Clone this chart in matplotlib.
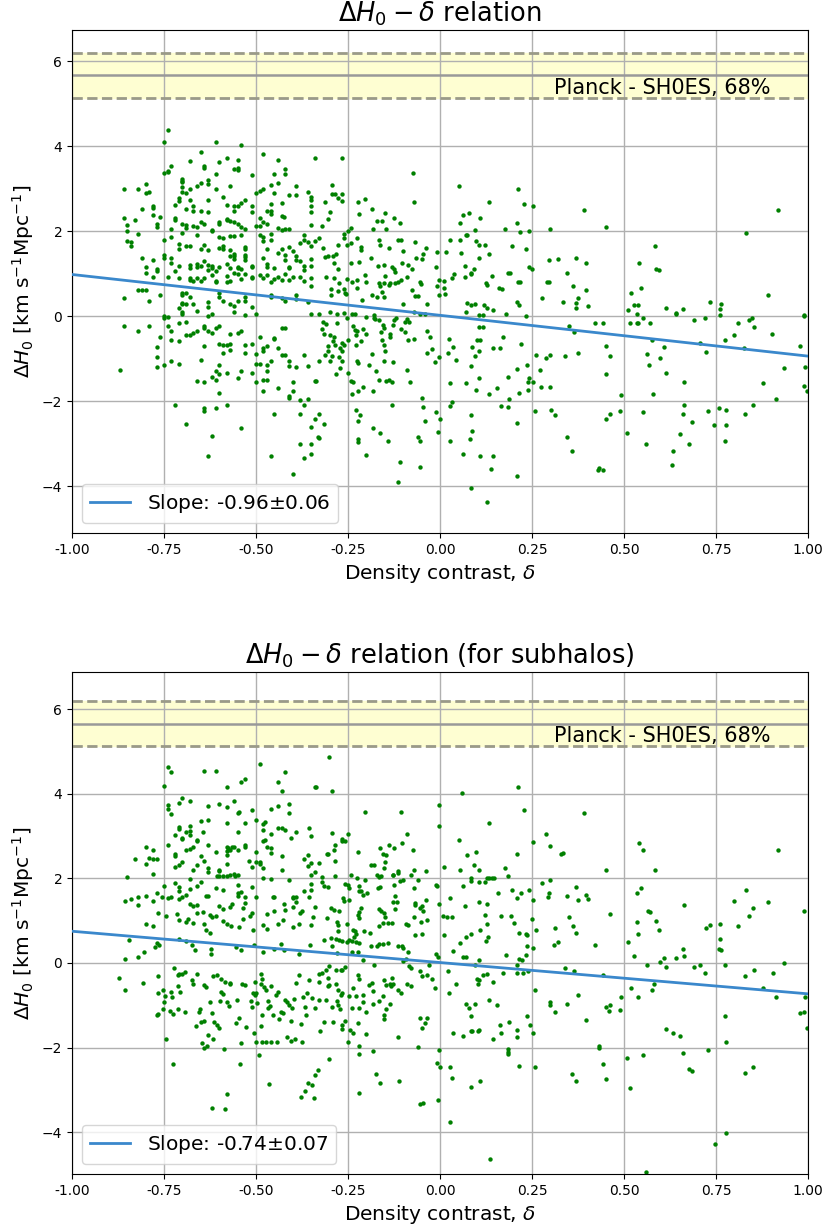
import numpy as np
import matplotlib
matplotlib.use("Agg")
import matplotlib.pyplot as plt

# ---- measurements: (density contrast, Delta H0) ----
halo_pts = [
    (-0.74,4.37),(-0.75,4.09),(-0.61,4.09),(-0.54,4.03),(-0.65,3.87),(-0.48,3.81),(-0.58,3.72),(-0.68,3.65),
    (-0.55,3.68),(-0.60,3.62),(-0.44,3.68),(-0.34,3.72),(-0.73,3.53),(-0.64,3.53),(-0.64,3.49),(-0.56,3.46),
    (-0.55,3.43),(-0.55,3.49),(-0.42,3.46),(-0.74,3.42),(-0.75,3.37),(-0.74,3.39),(-0.61,3.34),(-0.51,3.31),
    (-0.45,3.34),(-0.70,3.23),(-0.70,3.19),(-0.70,3.15),(-0.63,3.2),(-0.65,3.13),(-0.63,3.11),(-0.86,2.99),
    (-0.82,3.0),(-0.80,3.11),(-0.79,2.92),(-0.80,2.89),(-0.70,3.03),(-0.68,2.99),(-0.69,2.89),(-0.70,2.93),
    (-0.66,3.07),(-0.61,2.99),(-0.57,3.06),(-0.48,2.98),(-0.49,2.95),(-0.46,3.08),(-0.45,2.89),(-0.44,3.12),
    (-0.42,3.34),(-0.39,3.06),(-0.36,2.92),(-0.35,2.81),(-0.35,2.74),(-0.50,2.9),(-0.41,2.84),(-0.39,2.84),
    (-0.71,2.77),(-0.71,2.71),(-0.72,2.62),(-0.68,2.74),(-0.63,2.74),(-0.59,2.8),(-0.53,2.74),(-0.54,2.66),
    (-0.46,2.63),(-0.43,2.66),(-0.78,2.6),(-0.78,2.55),(-0.81,2.51),(-0.67,2.58),(-0.69,2.51),(-0.67,2.47),
    (-0.65,2.47),(-0.63,2.44),(-0.58,2.61),(-0.56,2.58),(-0.55,2.58),(-0.56,2.47),(-0.51,2.6),(-0.51,2.46),
    (-0.47,2.47),(-0.46,2.47),(-0.46,2.4),(-0.43,2.36),(-0.425,2.33),(-0.35,2.44),(-0.35,2.59),(-0.86,2.3),
    (-0.85,2.14),(-0.85,2.0),(-0.83,2.27),(-0.78,2.37),(-0.76,2.33),(-0.77,2.16),(-0.77,2.1),(-0.72,2.3),
    (-0.72,2.27),(-0.69,2.14),(-0.70,2.17),(-0.69,2.08),(-0.73,2.06),(-0.67,2.13),(-0.66,2.09),(-0.65,2.22),
    (-0.64,2.17),(-0.62,2.03),(-0.60,2.22),(-0.60,2.17),(-0.58,2.28),(-0.58,2.26),(-0.57,2.23),(-0.56,2.22),
    (-0.55,2.17),(-0.54,2.1),(-0.53,2.06),(-0.49,2.3),(-0.48,2.21),(-0.47,2.17),(-0.49,2.13),(-0.50,2.11),
    (-0.44,2.07),(-0.43,2.02),(-0.42,2.04),(-0.41,2.06),(-0.37,1.92),(-0.35,2.14),(-0.85,1.76),(-0.84,1.75),
    (-0.84,1.65),(-0.82,1.93),(-0.75,1.79),(-0.73,1.87),(-0.71,1.69),(-0.71,1.57),(-0.70,1.96),(-0.69,1.64),
    (-0.68,1.64),(-0.66,1.9),(-0.65,1.58),(-0.64,1.68),(-0.63,1.56),(-0.62,2.0),(-0.60,1.86),(-0.59,1.84),
    (-0.57,1.88),(-0.56,1.88),(-0.54,1.91),(-0.60,1.6),(-0.59,1.59),(-0.59,1.64),(-0.57,1.55),(-0.56,1.46),
    (-0.56,1.41),(-0.53,1.63),(-0.53,1.57),(-0.53,1.45),(-0.49,1.9),(-0.48,1.86),(-0.48,1.76),(-0.47,1.57),
    (-0.46,1.93),(-0.46,1.79),(-0.44,1.49),(-0.43,1.57),(-0.42,1.45),(-0.41,1.62),(-0.40,1.53),(-0.39,1.42),
    (-0.38,1.71),(-0.37,1.8),(-0.36,1.75),(-0.35,1.66),(-0.34,1.76),(-0.75,1.45),(-0.75,1.37),(-0.73,1.37),
    (-0.73,1.26),(-0.71,1.18),(-0.68,1.21),(-0.68,1.13),(-0.66,1.23),(-0.65,1.19),(-0.66,1.15),(-0.64,1.3),
    (-0.63,1.21),(-0.63,1.09),(-0.62,1.19),(-0.62,1.14),(-0.61,1.07),(-0.60,1.16),(-0.58,1.23),(-0.57,1.13),
    (-0.57,1.42),(-0.56,1.35),(-0.55,1.13),(-0.55,1.16),(-0.54,1.1),(-0.53,1.38),(-0.53,1.33),(-0.51,1.15),
    (-0.51,1.19),(-0.48,1.36),(-0.47,1.22),(-0.47,1.16),(-0.45,1.13),(-0.42,1.31),(-0.41,1.16),(-0.41,1.13),
    (-0.39,1.33),(-0.38,1.29),(-0.37,1.19),(-0.37,1.09),(-0.35,1.35),(-0.35,1.19),(-0.81,1.37),(-0.78,1.31),
    (-0.80,1.15),(-0.80,1.01),(-0.77,1.12),(-0.77,1.07),(-0.78,0.92),(-0.74,0.92),(-0.72,1.07),(-0.71,0.89),
    (-0.68,0.85),(-0.68,0.89),(-0.67,0.83),(-0.66,0.89),(-0.65,0.83),(-0.64,0.9),(-0.62,0.96),(-0.61,0.83),
    (-0.61,0.8),(-0.58,0.94),(-0.58,0.8),(-0.57,0.83),(-0.56,1.01),(-0.55,1.0),(-0.54,0.88),(-0.53,1.0),
    (-0.51,0.9),(-0.51,0.93),(-0.49,0.97),(-0.48,0.89),(-0.47,0.96),(-0.46,0.81),(-0.45,0.88),(-0.44,0.92),
    (-0.43,0.86),(-0.42,0.99),(-0.41,0.86),(-0.40,0.91),(-0.38,0.93),(-0.37,0.83),(-0.35,0.89),(-0.35,0.7),
    (-0.86,0.43),(-0.82,0.62),(-0.81,0.62),(-0.80,0.62),(-0.79,0.36),(-0.76,0.5),(-0.70,0.54),(-0.70,0.5),
    (-0.69,0.55),(-0.70,0.32),(-0.70,0.28),(-0.69,0.28),(-0.71,0.18),(-0.70,0.1),(-0.70,0.06),(-0.68,0.45),
    (-0.67,0.29),(-0.66,0.13),(-0.63,0.34),(-0.63,0.21),(-0.60,0.54),(-0.60,0.46),(-0.59,0.36),(-0.57,0.29),
    (-0.55,0.36),(-0.56,0.25),(-0.53,0.44),(-0.53,0.36),(-0.51,0.21),(-0.50,0.06),(-0.46,0.5),(-0.46,0.46),
    (-0.43,0.42),(-0.42,0.36),(-0.39,0.5),(-0.39,0.4),(-0.36,0.34),(-0.35,0.06),(-0.63,0.01),(-0.62,0.05),
    (-0.56,0.09),(-0.53,0.02),(-0.75,0.01),(-0.74,-0.02),
    (-0.86,-0.24),(-0.82,-0.34),(-0.79,-0.24),(-0.76,-0.49),(-0.77,-0.73),(-0.77,-0.96),(-0.77,-1.2),(-0.75,-1.16),
    (-0.87,-1.27),(-0.75,-0.05),(-0.74,-0.24),(-0.73,-0.34),(-0.73,-0.55),(-0.73,-1.05),(-0.71,-1.12),(-0.71,-0.59),
    (-0.71,-0.16),(-0.69,-0.14),(-0.69,-0.44),(-0.68,-0.45),(-0.67,-0.4),(-0.66,-0.36),(-0.64,-0.24),(-0.64,-0.28),
    (-0.63,-0.36),(-0.62,-0.4),(-0.61,-0.28),(-0.60,-0.24),(-0.64,-0.71),(-0.65,-1.02),(-0.66,-1.52),(-0.64,-1.55),
    (-0.62,-1.43),(-0.61,-1.49),(-0.61,-1.28),(-0.60,-0.65),(-0.59,-0.67),(-0.58,-0.67),(-0.57,-0.65),(-0.59,-0.87),
    (-0.60,-1.14),(-0.60,-1.36),(-0.58,-1.34),(-0.57,-0.8),(-0.57,-0.42),(-0.55,-0.4),(-0.54,-0.36),(-0.60,-1.81),
    (-0.61,-2.15),(-0.58,-2.08),(-0.64,-2.23),(-0.64,-2.17),(-0.72,-2.08),(-0.69,-2.53),(-0.62,-2.81),(-0.63,-3.3),
    (-0.54,-2.63),(-0.55,-1.45),(-0.54,-1.3),(-0.53,-0.87),(-0.53,-0.67),(-0.51,-0.65),(-0.51,-1.34),(-0.50,-1.55),
    (-0.50,-0.89),(-0.50,-1.13),(-0.49,-1.13),(-0.47,-1.14),(-0.49,-0.48),(-0.48,-0.75),(-0.48,-0.83),(-0.47,-0.7),
    (-0.48,-1.49),(-0.47,-1.49),(-0.48,-1.77),(-0.47,-1.3),(-0.46,-1.06),(-0.45,-0.52),(-0.45,-0.54),(-0.43,-0.28),
    (-0.42,-0.27),(-0.44,-1.7),(-0.45,-2.29),(-0.38,-2.29),(-0.46,-3.3),(-0.41,-1.06),(-0.41,-1.18),(-0.41,-1.88),
    (-0.41,-1.92),(-0.40,-1.55),(-0.40,-1.77),(-0.39,-1.2),(-0.37,-0.91),(-0.36,-1.18),(-0.34,-1.52),(-0.38,-1.98),
    (-0.36,-1.95),(-0.37,-2.08),(-0.35,-2.6),(-0.34,-2.43),(-0.33,-2.86),(-0.38,-3.0),(-0.35,-3.0),(-0.37,-3.33),
    (-0.35,-3.25),(-0.40,-3.71),(-0.44,-0.75),(-0.43,-0.91),(-0.42,-0.91),
    (-0.265,3.72),(-0.074,3.37),(-0.294,3.09),(-0.294,2.88),(-0.285,2.88),(-0.278,2.78),(-0.267,2.71),(-0.265,2.88),
    (-0.312,2.69),(-0.222,2.69),(-0.204,2.75),(-0.071,2.69),(0.052,3.06),(0.212,3.0),(0.133,2.69),(0.227,2.63),
    (0.253,2.6),(-0.30,2.44),(-0.304,2.28),(-0.322,2.12),(-0.221,2.4),(-0.185,2.52),(-0.171,2.24),(-0.157,2.24),
    (-0.15,2.43),(-0.124,2.3),(-0.11,2.18),(-0.181,2.06),(-0.146,2.06),(-0.243,2.08),(-0.25,2.01),(0.062,2.37),
    (0.08,2.43),(0.109,2.3),(0.054,2.18),(0.095,2.03),(0.073,1.9),(0.208,2.18),(0.177,2.06),(0.30,2.06),
    (0.218,1.97),(0.241,2.0),(-0.33,1.84),(-0.261,1.93),(-0.262,1.84),(-0.225,1.84),(-0.319,1.6),(-0.313,1.38),
    (-0.303,1.42),(-0.292,1.42),(-0.283,1.47),(-0.278,1.68),(-0.252,1.68),(-0.243,1.72),(-0.215,1.62),(-0.215,1.55),
    (-0.165,1.78),(-0.164,1.68),(-0.138,1.6),(-0.114,1.8),(-0.107,1.8),(-0.101,1.53),(-0.069,1.74),(-0.038,1.6),
    (-0.009,1.5),(0.015,1.5),(0.026,1.8),(0.055,1.8),(0.072,1.9),(0.098,1.77),(0.105,1.68),(0.123,1.68),
    (0.134,1.46),(0.195,1.64),(0.235,1.59),(0.057,1.49),(-0.287,1.24),(-0.276,1.11),(-0.241,1.24),(-0.221,1.28),
    (-0.188,1.37),(-0.169,1.18),(-0.153,1.21),(-0.13,1.15),(-0.125,1.11),(-0.123,1.03),(-0.103,1.24),(-0.088,1.2),
    (-0.077,1.11),(-0.064,1.37),(-0.048,1.34),(-0.046,1.46),(-0.011,1.15),(0.069,1.18),(0.093,1.11),(0.085,1.02),
    (0.105,1.37),(0.186,1.02),(0.191,1.02),(0.217,0.8),(0.243,1.16),(0.249,1.11),(0.296,1.33),(0.32,1.35),
    (-0.31,0.93),(-0.287,0.9),(-0.275,0.79),(-0.253,0.88),(-0.238,0.8),(-0.225,0.86),(-0.204,0.97),(-0.2,0.8),
    (-0.167,0.77),(-0.162,0.7),(-0.151,0.78),(-0.15,0.94),(-0.137,0.78),(-0.122,0.78),(-0.113,0.8),(-0.106,0.86),
    (-0.089,0.92),(-0.053,0.81),(-0.051,0.75),(-0.004,0.86),(0.011,0.67),(0.033,0.89),(0.038,0.98),(0.069,0.92),
    (0.085,0.99),(0.14,0.95),(0.124,0.78),(0.128,0.74),(0.159,0.66),(0.168,0.63),(0.213,0.8),(0.21,0.34),
    (0.216,0.26),(0.276,0.42),(0.29,0.81),(0.296,0.81),(-0.296,0.63),(-0.295,0.5),(-0.278,0.59),(-0.261,0.63),
    (-0.259,0.54),(-0.255,0.51),(-0.225,0.67),(-0.213,0.39),(-0.185,0.49),(-0.171,0.46),(-0.157,0.56),(-0.151,0.45),
    (-0.139,0.74),(-0.077,0.62),(-0.1,0.28),(-0.067,0.47),(-0.061,0.47),(-0.036,0.28),(-0.009,0.7),(-0.004,0.49),
    (0.014,0.52),(0.012,0.82),(0.073,0.31),(0.084,0.27),(0.094,0.28),(0.12,0.26),(0.129,0.18),(0.145,0.14),
    (0.072,0.1),(0.107,0.03),(0.116,0.03),(0.18,0.06),(0.234,0.0),(-0.33,0.04),(-0.30,0.1),(-0.28,0.06),
    (-0.26,0.08),(-0.24,0.04),(-0.23,0.06),(-0.2,-0.02),(-0.18,0.02),(-0.12,-0.05),(-0.09,-0.07),(-0.04,0.06),
    (-0.07,0.09),(-0.055,0.06),
    (-0.319,-0.13),(-0.31,-0.19),(-0.322,-0.3),(-0.314,-0.41),(-0.30,-0.44),(-0.279,-0.16),(-0.287,-0.48),(-0.254,-0.05),
    (-0.236,-0.24),(-0.23,-0.33),(-0.228,-0.44),(-0.225,-0.36),(-0.25,-0.55),(-0.228,-0.67),(-0.214,-0.59),(-0.21,-0.3),
    (-0.2,-0.41),(-0.29,-0.59),(-0.284,-0.67),(-0.305,-0.71),(-0.266,-0.63),(-0.26,-0.67),(-0.272,-0.75),(-0.303,-0.81),
    (-0.312,-0.91),(-0.293,-0.93),(-0.328,-1.05),(-0.30,-1.06),(-0.266,-0.83),(-0.274,-0.95),(-0.265,-1.05),(-0.283,-1.36),
    (-0.272,-1.23),(-0.25,-1.34),(-0.243,-1.53),(-0.236,-1.55),(-0.24,-1.83),(-0.222,-1.77),(-0.21,-1.67),(-0.181,-1.77),
    (-0.226,-1.06),(-0.222,-1.1),(-0.192,-1.14),(-0.186,-0.88),(-0.174,-1.3),(-0.165,-1.49),(-0.178,-0.05),(-0.167,-0.09),
    (-0.177,-0.06),(-0.155,-0.2),(-0.153,-0.28),(-0.129,-0.2),(-0.161,-0.38),(-0.158,-0.56),(-0.151,-0.67),(-0.149,-0.83),
    (-0.152,-1.05),(-0.137,-0.42),(-0.136,-0.5),(-0.124,-0.1),(-0.106,-0.3),(-0.129,-1.09),(-0.147,-1.53),(-0.138,-1.5),
    (-0.13,-1.55),(-0.096,-0.13),(-0.085,-0.13),(-0.086,-0.56),(-0.072,-0.53),(-0.094,-0.38),(-0.091,-1.27),(-0.082,-1.55),
    (-0.05,-1.92),(-0.045,-2.14),(-0.042,-2.47),(-0.131,-2.08),(-0.035,-0.34),(-0.026,-0.49),(-0.022,-0.77),(-0.035,-0.87),
    (-0.014,-1.09),(-0.003,-0.96),(0.025,-0.53),(0.036,-0.72),(0.043,-1.03),(0.023,-0.87),(0.026,-1.58),(0.033,-2.01),
    (0.026,-2.11),(-0.01,-2.26),(0.001,-2.41),(-0.005,-2.73),(0.084,-1.18),(0.072,-1.58),(0.083,-2.33),(0.088,-2.69),
    (0.082,-2.88),(0.105,-0.25),(0.116,-0.25),(0.101,-0.55),(0.109,-0.55),(0.105,-0.83),(0.094,-0.93),(0.087,-0.72),
    (0.105,-1.45),(0.098,-1.73),(0.145,-0.75),(0.163,-0.75),(0.17,-0.49),(0.134,-1.83),(0.156,-1.7),(0.184,-1.43),
    (0.166,-2.11),(0.184,-2.14),(0.188,-1.95),(0.209,-1.24),(0.216,-1.8),(0.209,-2.51),(0.22,-0.65),(0.236,-1.14),
    (0.238,-1.55),(0.243,-1.45),(0.254,-1.55),(0.238,-1.73),(0.261,-0.91),(0.271,-1.27),(0.288,-0.99),(0.3,-0.91),
    (0.274,-1.67),(0.299,-1.67),(0.259,-2.23),(0.302,-2.2),(0.313,-2.33),(-0.228,-2.2),(-0.217,-2.33),(-0.223,-2.47),
    (-0.222,-2.9),(-0.222,-2.96),(-0.182,-2.63),(-0.164,-2.75),(-0.14,-2.94),(-0.06,-2.84),(-0.053,-2.94),(-0.2,-3.27),
    (-0.11,-3.43),(-0.053,-3.55),(-0.113,-3.9),(0.026,-2.94),(0.062,-3.25),(0.109,-3.3),(0.145,-3.3),(0.138,-3.59),
    (0.083,-4.05),(0.127,-4.36),(0.209,-3.77),(-0.328,-2.29),(-0.315,-2.53),(-0.332,-2.84),(-0.337,-1.52),
    (0.39,2.49),(0.451,2.09),(0.918,2.49),(0.832,1.96),(0.585,1.65),(0.369,1.37),(0.397,1.24),(0.344,1.02),
    (0.541,1.24),(0.588,1.12),(0.595,1.08),(0.362,0.7),(0.397,0.62),(0.376,0.43),(0.369,0.31),(0.402,0.25),
    (0.369,0.18),(0.334,0.34),(0.545,0.67),(0.519,0.55),(0.527,0.27),(0.539,0.27),(0.512,0.15),(0.534,0.05),
    (0.614,0.2),(0.642,0.04),(0.661,0.17),(0.735,0.33),(0.764,0.29),(0.76,0.16),(0.76,0.03),(0.89,0.49),
    (0.849,-0.04),(0.989,0.0),(0.552,-0.05),(0.689,-0.1),(0.721,-0.05),
    (0.351,-0.24),(0.365,-0.38),(0.422,-0.16),(0.444,-0.16),(0.451,-0.71),(0.462,-0.93),(0.451,-1.36),(0.34,-0.93),
    (0.376,-0.87),(0.517,-0.16),(0.535,-0.16),(0.538,-0.16),(0.57,-0.16),(0.642,0.08),(0.576,-0.55),(0.609,-0.72),
    (0.563,-0.9),(0.567,-1.14),(0.598,-0.99),(0.614,-1.33),(0.663,-1.55),(0.707,-0.63),(0.724,-0.84),(0.774,-0.55),
    (0.799,-0.44),(0.81,-0.16),(0.839,-0.09),(0.854,-0.25),(0.827,-0.74),(0.903,-0.41),(0.979,-0.71),(0.935,-1.23),
    (0.993,-1.2),(0.99,-1.64),(0.997,-1.77),(0.878,-1.58),(0.914,-1.95),(0.491,-1.86),(0.58,-1.82),(0.462,-2.29),
    (0.451,-2.41),(0.488,-2.23),(0.552,-2.26),(0.663,-2.1),(0.66,-2.29),(0.685,-2.48),(0.728,-2.23),(0.745,-2.57),
    (0.757,-2.16),(0.778,-2.2),(0.778,-2.57),(0.774,-2.94),(0.828,-2.29),(0.85,-2.1),(0.344,-2.84),(0.358,-3.18),
    (0.43,-3.62),(0.433,-3.56),(0.444,-3.62),(0.509,-2.75),(0.559,-3.0),(0.652,-2.78),(0.677,-3.0),(0.634,-3.18),
    (0.631,-3.5),(0.989,0.03),
]

subhalo_pts = [
    (-0.74,4.63),(-0.73,4.51),(-0.64,4.55),(-0.61,4.55),(-0.49,4.71),(-0.42,4.52),(-0.53,4.36),(-0.54,4.27),
    (-0.58,4.15),(-0.44,4.27),(-0.43,4.06),(-0.34,4.15),(-0.75,4.18),(-0.70,3.89),(-0.68,3.83),(-0.71,3.78),
    (-0.74,3.74),(-0.74,3.65),(-0.73,3.53),(-0.63,3.72),(-0.60,3.76),(-0.58,3.68),(-0.56,3.83),(-0.55,3.55),
    (-0.545,3.57),(-0.51,3.61),(-0.46,3.65),(-0.44,3.71),(-0.41,3.76),(-0.41,3.55),(-0.65,3.36),(-0.63,3.37),
    (-0.58,3.31),(-0.53,3.31),(-0.50,3.37),(-0.48,3.28),(-0.475,3.33),(-0.48,3.15),(-0.44,3.18),(-0.43,3.18),
    (-0.42,3.15),(-0.39,3.09),(-0.355,3.2),(-0.35,3.0),(-0.71,3.21),(-0.71,3.17),(-0.69,3.09),(-0.68,3.11),
    (-0.72,3.02),(-0.70,2.95),(-0.70,2.92),(-0.68,3.24),(-0.68,3.02),(-0.645,3.09),(-0.66,2.9),(-0.55,3.09),
    (-0.48,2.89),(-0.475,2.91),(-0.46,3.05),(-0.405,2.96),(-0.80,2.74),(-0.78,2.68),(-0.74,2.78),(-0.83,2.46),
    (-0.79,2.49),(-0.78,2.46),(-0.77,2.46),(-0.80,2.34),(-0.78,2.11),(-0.85,2.03),(-0.72,2.58),(-0.72,2.52),
    (-0.72,2.28),(-0.70,2.39),(-0.71,2.31),(-0.69,2.66),(-0.68,2.7),(-0.67,2.74),(-0.66,2.88),(-0.67,2.21),
    (-0.66,2.31),(-0.65,2.54),(-0.64,2.41),(-0.63,2.25),(-0.63,2.78),(-0.63,2.14),(-0.61,2.62),(-0.60,2.2),
    (-0.58,2.74),(-0.575,2.72),(-0.57,2.68),(-0.565,2.74),(-0.58,2.65),(-0.56,2.74),(-0.55,2.66),(-0.58,2.55),
    (-0.58,2.34),(-0.53,2.78),(-0.53,2.74),(-0.52,2.41),(-0.50,2.62),(-0.50,2.39),(-0.49,2.39),(-0.49,2.33),
    (-0.48,2.25),(-0.51,2.27),(-0.47,2.74),(-0.46,2.72),(-0.46,2.61),(-0.43,2.52),(-0.43,2.21),(-0.37,2.46),
    (-0.36,2.56),(-0.36,2.29),(-0.35,2.36),(-0.35,2.09),(-0.34,2.15),(-0.605,2.06),(-0.60,2.05),(-0.59,2.06),
    (-0.58,2.06),(-0.57,2.09),(-0.56,2.11),(-0.557,2.05),(-0.55,2.09),(-0.60,2.17),(-0.48,2.02),(-0.68,1.99),
    (-0.75,1.83),(-0.72,1.9),(-0.71,1.8),(-0.68,1.76),(-0.69,1.61),(-0.66,1.83),(-0.65,1.91),(-0.71,1.7),
    (-0.70,1.56),(-0.71,1.52),(-0.77,1.65),(-0.755,1.56),(-0.82,1.57),(-0.80,1.59),(-0.84,1.52),(-0.855,1.46),
    (-0.78,1.46),(-0.82,1.37),(-0.74,1.54),(-0.73,1.57),(-0.635,1.59),(-0.63,1.59),(-0.61,1.78),(-0.59,1.73),
    (-0.55,1.85),(-0.51,1.8),(-0.50,1.57),(-0.55,1.66),(-0.55,1.58),(-0.54,1.67),(-0.53,1.57),(-0.46,1.99),
    (-0.455,1.56),(-0.45,1.56),(-0.41,1.95),(-0.40,1.54),(-0.40,1.57),(-0.39,1.56),(-0.37,1.69),(-0.35,1.73),
    (-0.355,1.57),(-0.35,1.87),(-0.68,1.39),(-0.67,1.34),(-0.66,1.36),(-0.66,1.17),(-0.645,1.21),(-0.625,1.13),
    (-0.62,1.09),(-0.60,1.34),(-0.59,1.28),(-0.57,1.32),(-0.565,1.4),(-0.53,1.42),(-0.535,1.31),(-0.51,1.18),
    (-0.515,1.11),(-0.47,1.15),(-0.45,1.24),(-0.425,1.4),(-0.42,1.26),(-0.40,1.33),(-0.39,1.44),(-0.375,1.24),
    (-0.38,1.18),(-0.34,1.33),(-0.345,1.09),(-0.765,1.17),(-0.745,1.11),(-0.715,1.15),(-0.71,1.01),(-0.69,0.96),
    (-0.685,1.05),(-0.67,0.95),(-0.80,0.91),(-0.78,0.87),(-0.64,0.93),(-0.635,0.77),(-0.625,0.72),(-0.61,1.11),
    (-0.59,0.99),(-0.58,0.91),(-0.567,0.87),(-0.547,0.85),(-0.536,1.05),(-0.508,0.77),(-0.48,0.89),(-0.47,0.81),
    (-0.44,0.93),(-0.426,1.01),(-0.40,0.85),(-0.384,0.93),(-0.35,0.89),(-0.846,0.55),(-0.77,0.48),(-0.763,0.42),
    (-0.775,0.38),(-0.71,0.57),(-0.69,0.52),(-0.674,0.42),(-0.665,0.3),(-0.805,0.25),(-0.82,0.13),(-0.857,0.09),
    (-0.622,0.34),(-0.623,0.22),(-0.554,0.38),(-0.54,0.3),(-0.506,0.43),(-0.48,0.26),(-0.45,0.34),(-0.432,0.46),
    (-0.425,0.3),(-0.384,0.22),(-0.352,0.43),
    (-0.871,-0.35),(-0.857,-0.63),(-0.807,-0.47),(-0.767,-0.31),(-0.767,-0.72),(-0.768,-1.23),(-0.765,-1.21),(-0.752,-0.63),
    (-0.748,-0.78),(-0.75,-0.92),(-0.754,-1.1),(-0.745,-1.8),(-0.73,-0.68),(-0.728,-0.8),(-0.735,-1.14),(-0.726,-1.21),
    (-0.724,-0.13),(-0.713,-0.29),(-0.71,-0.25),(-0.70,-0.25),(-0.712,-0.55),(-0.707,-0.68),(-0.712,-1.1),(-0.692,-1.15),
    (-0.692,-0.21),(-0.674,-0.41),(-0.671,-0.49),(-0.659,-0.25),(-0.653,-1.1),(-0.656,-1.15),(-0.649,-1.39),(-0.642,-1.37),
    (-0.663,-1.49),(-0.631,-1.7),(-0.646,-1.9),(-0.64,-2.02),(-0.634,-1.96),(-0.62,-1.19),(-0.613,-1.39),(-0.605,-1.47),
    (-0.60,-1.54),(-0.617,-1.8),(-0.588,-2.03),(-0.641,-0.53),(-0.636,-0.58),(-0.624,-0.92),(-0.599,-0.89),(-0.618,-0.31),
    (-0.606,-0.29),(-0.595,-0.37),(-0.585,-0.45),(-0.594,-0.69),(-0.589,-0.74),(-0.578,-0.92),(-0.574,-1.01),(-0.572,-0.47),
    (-0.57,-0.5),(-0.551,-0.88),(-0.553,-1.43),(-0.547,-1.31),(-0.538,-0.49),(-0.531,-0.53),(-0.541,-1.9),(-0.526,-1.51),
    (-0.543,-2.4),(-0.513,-0.89),(-0.511,-1.05),(-0.509,-0.72),(-0.504,-0.76),(-0.499,-0.72),(-0.504,-0.45),(-0.487,-0.5),
    (-0.506,-1.65),(-0.496,-0.94),(-0.499,-1.86),(-0.484,-1.88),(-0.472,-1.88),(-0.459,-1.87),(-0.442,-1.87),(-0.487,-1.49),
    (-0.491,-2.17),(-0.486,-0.25),(-0.484,-0.37),(-0.479,-0.57),(-0.473,-0.63),(-0.459,-0.55),(-0.467,-0.9),(-0.461,-1.02),
    (-0.467,-1.06),(-0.484,-1.23),(-0.454,-1.23),(-0.447,-0.76),(-0.441,-0.68),(-0.437,-1.33),(-0.432,-1.15),(-0.427,-1.18),
    (-0.42,-0.88),(-0.416,-0.93),(-0.409,-1.0),(-0.401,-1.07),(-0.416,-1.74),(-0.405,-1.84),(-0.395,-1.8),(-0.376,-1.86),
    (-0.405,-1.37),(-0.398,-0.86),(-0.372,-0.8),(-0.39,-0.47),(-0.384,-0.29),(-0.377,-1.44),(-0.368,-1.04),(-0.363,-1.23),
    (-0.355,-0.41),(-0.361,-0.71),(-0.347,-0.82),(-0.341,-1.06),(-0.466,-2.87),(-0.379,-3.17),(-0.367,-3.02),(-0.359,-2.84),
    (-0.348,-2.89),(-0.343,-3.19),(-0.341,-2.64),(-0.579,-3.09),(-0.62,-3.42),(-0.585,-3.45),(-0.725,-2.4),
    (-0.301,4.87),(-0.294,4.06),(-0.337,4.16),(0.059,4.02),(0.213,4.15),(-0.203,3.58),(-0.107,3.58),(-0.004,3.74),
    (0.227,3.62),(-0.004,3.24),(0.133,3.31),(-0.294,3.08),(-0.25,3.05),(-0.267,2.93),(-0.265,2.88),(-0.257,2.88),
    (-0.285,2.79),(-0.287,2.67),(-0.307,2.58),(-0.303,2.58),(-0.329,2.36),(-0.286,2.42),(-0.222,2.62),(-0.089,3.05),
    (-0.102,2.83),(-0.164,2.72),(-0.154,2.58),(-0.148,2.55),(-0.139,2.79),(-0.125,2.73),(-0.074,2.68),(-0.188,2.31),
    (-0.178,2.31),(-0.15,2.38),(-0.153,2.25),(-0.114,2.17),(-0.127,2.09),(-0.072,2.2),(-0.078,2.09),(-0.038,2.17),
    (0.052,2.9),(0.073,2.55),(0.098,2.62),(0.093,2.31),(0.106,2.2),(0.054,2.21),(0.012,2.28),(0.209,2.58),
    (0.177,2.24),(0.184,2.05),(0.253,2.87),(0.288,3.05),(0.298,2.77),(0.329,2.58),(-0.322,2.03),(-0.322,1.91),
    (-0.314,1.83),(-0.303,1.79),(-0.285,2.06),(-0.258,1.87),(-0.246,1.77),(-0.243,2.09),(-0.225,2.02),(-0.203,1.97),
    (-0.219,1.83),(-0.216,1.7),(-0.199,1.65),(-0.171,2.09),(-0.166,2.03),(-0.159,2.06),(-0.169,1.78),(-0.162,1.8),
    (-0.129,2.09),(-0.114,2.12),(-0.125,1.84),(-0.11,1.94),(-0.101,1.96),(-0.071,1.78),(-0.061,1.95),(-0.009,1.83),
    (0.062,1.83),(0.083,2.01),(0.084,1.94),(0.107,1.91),(0.122,1.91),(0.128,2.01),(0.134,2.01),(0.14,2.01),
    (0.146,2.01),(0.158,1.65),(0.195,1.72),(0.21,1.53),(0.219,1.65),(0.241,1.72),(0.253,1.5),(0.277,1.9),
    (0.298,1.95),(0.294,1.57),(0.297,1.66),(-0.297,1.3),(-0.287,1.26),(-0.307,1.07),(-0.275,1.22),(-0.263,1.54),
    (-0.26,1.47),(-0.246,1.5),(-0.25,1.84),(-0.221,1.69),(-0.21,1.61),(-0.215,1.31),(-0.224,1.13),(-0.221,1.2),
    (-0.219,1.07),(-0.28,0.96),(-0.276,0.9),(-0.277,0.75),(-0.253,0.93),(-0.236,0.78),(-0.23,0.76),(-0.228,0.69),
    (-0.234,0.62),(-0.206,0.76),(-0.189,0.7),(-0.167,1.28),(-0.16,1.24),(-0.152,1.18),(-0.149,1.09),(-0.156,0.94),
    (-0.165,0.88),(-0.14,0.94),(-0.13,0.94),(-0.127,1.43),(-0.123,1.28),(-0.118,1.44),(-0.123,1.58),(-0.092,0.91),
    (-0.087,0.89),(-0.071,1.09),(-0.069,1.41),(-0.069,1.36),(-0.053,1.31),(-0.049,1.35),(-0.045,1.23),(-0.038,1.49),
    (-0.051,0.97),(-0.034,1.01),(-0.067,0.65),(-0.049,0.69),(-0.01,1.85),(-0.004,1.4),(0.007,1.1),(0.018,1.09),
    (0.033,1.09),(0.026,1.54),(0.012,0.66),(0.069,1.35),(0.105,1.44),(0.127,1.39),(0.123,1.14),(0.127,0.93),
    (0.108,0.77),(0.083,0.69),(0.072,0.61),(0.055,0.48),(0.13,0.61),(0.126,0.52),(0.166,1.12),(0.192,1.1),
    (0.2,0.94),(0.216,0.71),(0.234,0.69),(0.237,0.65),(0.249,1.04),(0.262,0.79),(0.312,0.82),(0.237,0.39),
    (0.253,0.36),(0.309,0.42),(0.321,0.49),(0.179,0.19),(0.216,0.1),(0.222,0.08),(0.234,0.2),(-0.296,0.6),
    (-0.283,0.56),(-0.274,0.54),(-0.266,0.52),(-0.294,0.39),(-0.281,0.24),(-0.314,0.55),(-0.253,0.5),(-0.246,0.54),
    (-0.239,0.51),(-0.227,0.5),(-0.219,0.47),(-0.24,0.27),(-0.224,0.27),(-0.21,0.06),(-0.188,0.41),(-0.171,0.41),
    (-0.165,0.46),(-0.156,0.46),(-0.142,0.48),(-0.114,0.41),(-0.103,0.41),(-0.1,0.35),(-0.088,0.26),(-0.092,0.1),
    (-0.011,0.22),(-0.005,0.15),(0.036,0.29),(0.062,0.13),(0.072,0.14),(0.105,0.07),
    (0.391,3.55),(0.334,2.59),(0.451,2.21),(0.541,2.83),(0.552,2.68),(0.585,2.21),(0.918,2.68),(0.369,1.8),
    (0.344,1.58),(0.397,1.61),(0.402,1.51),(0.376,1.48),(0.351,1.09),(0.362,0.87),(0.369,0.72),(0.462,1.15),
    (0.422,0.43),(0.545,1.78),(0.534,1.65),(0.566,1.23),(0.57,1.2),(0.663,1.37),(0.534,0.96),(0.588,1.0),
    (0.595,0.79),(0.538,0.68),(0.512,0.5),(0.527,0.16),(0.609,0.12),(0.642,0.12),(0.66,0.33),(0.664,0.17),
    (0.724,0.83),(0.735,0.89),(0.76,0.93),(0.76,0.56),(0.758,0.34),(0.764,0.31),(0.832,1.72),(0.799,1.46),
    (0.85,1.3),(0.839,1.12),(0.89,1.43),(0.81,0.87),(0.99,1.24),
    (-0.328,-0.25),(-0.322,-0.23),(-0.31,-0.17),(-0.301,-0.08),(-0.304,-0.35),(-0.301,-0.53),(-0.305,-0.55),(-0.283,-0.16),
    (-0.27,-0.17),(-0.265,-0.17),(-0.258,-0.09),(-0.328,-0.45),(-0.33,-0.88),(-0.283,-0.5),(-0.276,-0.64),(-0.267,-0.72),
    (-0.269,-0.76),(-0.311,-0.88),(-0.294,-1.04),(-0.281,-0.89),(-0.278,-0.99),(-0.272,-1.1),(-0.315,-1.4),(-0.29,-1.4),
    (-0.325,-1.62),(-0.267,-1.47),(-0.265,-1.57),(-0.257,-1.37),(-0.245,-1.58),(-0.237,-1.65),(-0.25,-1.87),(-0.246,-0.78),
    (-0.237,-0.6),(-0.228,-0.78),(-0.224,-0.29),(-0.221,-0.37),(-0.239,-1.06),(-0.219,-1.06),(-0.21,-0.76),(-0.21,-0.92),
    (-0.201,-1.15),(-0.222,-1.43),(-0.201,-1.68),(-0.192,-0.53),(-0.185,-0.47),(-0.181,-0.66),(-0.178,-0.05),(-0.183,-0.96),
    (-0.165,-0.9),(-0.154,-0.78),(-0.147,-1.09),(-0.153,-1.23),(-0.153,-1.33),(-0.136,-0.96),(-0.151,-0.41),(-0.147,-0.53),
    (-0.136,-0.5),(-0.132,-0.55),(-0.129,-0.5),(-0.13,-0.35),(-0.113,-0.64),(-0.106,-0.72),(-0.09,-0.5),(-0.079,-0.55),
    (-0.115,-1.74),(-0.1,0.05),(-0.083,-0.08),(-0.078,-0.11),(-0.053,-0.2),(-0.049,-0.31),(-0.035,-0.28),(-0.022,-0.37),
    (-0.029,-0.05),(-0.014,-0.6),(-0.054,-1.31),(-0.042,-1.41),(-0.035,-1.31),(-0.049,-1.53),(0.023,-0.2),(0.025,-0.7),
    (0.043,-0.5),(0.036,-1.65),(0.062,-1.72),(0.072,-0.96),(0.094,-0.96),(0.08,-1.06),(0.083,-1.25),(0.083,-1.62),
    (0.087,-1.62),(0.104,-1.62),(0.105,-1.58),(0.101,-0.37),(0.107,-0.41),(0.116,-0.29),(0.127,-0.25),(0.102,-0.5),
    (0.096,-0.05),(0.134,-0.88),(0.155,-1.0),(0.144,-1.8),(0.144,-0.44),(0.162,-1.47),(0.167,-1.65),(0.188,-1.4),
    (0.17,-0.23),(0.184,-2.04),(0.184,-2.1),(0.184,-2.16),(0.209,-0.05),(0.21,-0.23),(0.225,-0.23),(0.24,-0.2),
    (0.209,-1.59),(0.209,-1.75),(0.216,-2.43),(0.236,-1.25),(0.244,-1.47),(0.253,-1.65),(0.259,-0.63),(0.259,-2.46),
    (0.299,-0.93),(0.299,-0.99),(0.313,-1.15),(-0.301,-2.27),(-0.332,-2.53),(-0.221,-1.96),(-0.221,-2.15),(-0.181,-2.09),
    (-0.175,-2.62),(-0.164,-2.84),(-0.221,-3.08),(-0.111,-2.78),(-0.061,-1.99),(-0.003,-2.05),(-0.009,-2.37),(0.001,-2.46),
    (0.026,-2.46),(0.033,-2.71),(0.083,-2.93),(0.109,-2.8),(-0.053,-3.33),(-0.047,-3.31),(-0.006,-3.24),(0.026,-3.77),
    (0.137,-4.64),
    (0.34,-0.13),(0.365,-0.2),(0.444,-0.28),(0.563,-0.04),(0.598,0.03),(0.613,-0.09),(0.689,-0.09),(0.707,-0.04),
    (0.72,-0.23),(0.774,-0.04),(0.828,-0.31),(0.854,-0.16),(0.904,-0.23),(0.936,0.0),(0.376,-0.75),(0.344,-0.96),
    (0.452,-1.04),(0.463,-1.0),(0.46,-1.13),(0.488,-1.12),(0.491,-0.81),(0.519,-0.6),(0.538,-0.81),(0.581,-0.5),
    (0.577,-0.63),(0.878,-0.6),(0.914,-0.81),(0.993,-0.81),(0.774,-1.25),(0.979,-1.19),(0.99,-1.15),(0.998,-1.53),
    (0.397,-1.34),(0.613,-1.56),(0.634,-1.65),(0.653,-1.72),(0.431,-2.0),(0.433,-1.96),(0.509,-2.24),(0.552,-2.18),
    (0.66,-2.12),(0.728,-2.05),(0.778,-1.87),(0.677,-2.5),(0.684,-2.56),(0.444,-2.4),(0.358,-2.62),(0.369,-2.78),
    (0.451,-2.74),(0.517,-2.96),(0.828,-2.59),(0.85,-2.46),(0.778,-4.02),(0.746,-4.27),(0.559,-4.94),
]

# linear fits (slope, error, intercept)
fit_slopes = [-0.96, -0.74]
fit_errors = [0.06, 0.07]
fit_intercepts = [0.02, 0.01]

# Planck - SH0ES tension band
band_center = 5.66
band_halfwidth = 0.53

titles = [r"$\Delta H_0 - \delta$ relation", r"$\Delta H_0 - \delta$ relation (for subhalos)"]
y_limits = [(-5.1, 6.73), (-4.99, 6.88)]
x_ticks = [-1.0, -0.75, -0.5, -0.25, 0.0, 0.25, 0.5, 0.75, 1.0]

fig = plt.figure(figsize=(8.26, 12.32), dpi=100)
rects = [
    [72 / 826, 1 - 533 / 1232, 736 / 826, 503 / 1232],
    [72 / 826, 1 - 1174 / 1232, 736 / 826, 502 / 1232],
]

for i, pts in enumerate([halo_pts, subhalo_pts]):
    ax = fig.add_axes(rects[i])
    arr = np.array(pts)
    ax.scatter(arr[:, 0], arr[:, 1], s=10, color="green", linewidths=0, zorder=2)

    xs = np.array([-1.0, 1.0])
    ax.plot(xs, fit_slopes[i] * xs + fit_intercepts[i], color="#3a88cc", lw=2,
            label=f"Slope: {fit_slopes[i]:.2f}$\\pm${fit_errors[i]:.2f}", zorder=3)

    lo, hi = band_center - band_halfwidth, band_center + band_halfwidth
    ax.axhspan(lo, hi, color="#fefed2", zorder=0)
    ax.axhline(band_center, color="#999999", lw=1.8, zorder=1)
    ax.axhline(lo, color="#9a9a88", lw=2, ls="--", zorder=1)
    ax.axhline(hi, color="#9a9a88", lw=2, ls="--", zorder=1)
    ax.text(0.897, band_center - 0.3, "Planck - SH0ES, 68%", ha="right", va="center",
            fontsize=15, zorder=4)

    ax.set_xlim(-1, 1)
    ax.set_ylim(*y_limits[i])
    ax.set_xticks(x_ticks)
    ax.set_xticklabels([f"{t:.2f}" for t in x_ticks])
    ax.set_yticks([-4, -2, 0, 2, 4, 6])
    ax.grid(True, color="#b0b0b0", lw=1.0)
    ax.set_axisbelow(True)
    ax.set_title(titles[i], fontsize=18.5)
    ax.set_xlabel(r"Density contrast, $\delta$", fontsize=14.5)
    ax.set_ylabel(r"$\Delta H_0$ [km s$^{-1}$Mpc$^{-1}$]", fontsize=14.5)
    ax.legend(loc="lower left", fontsize=14.5)

fig.savefig("out.png", dpi=100)
